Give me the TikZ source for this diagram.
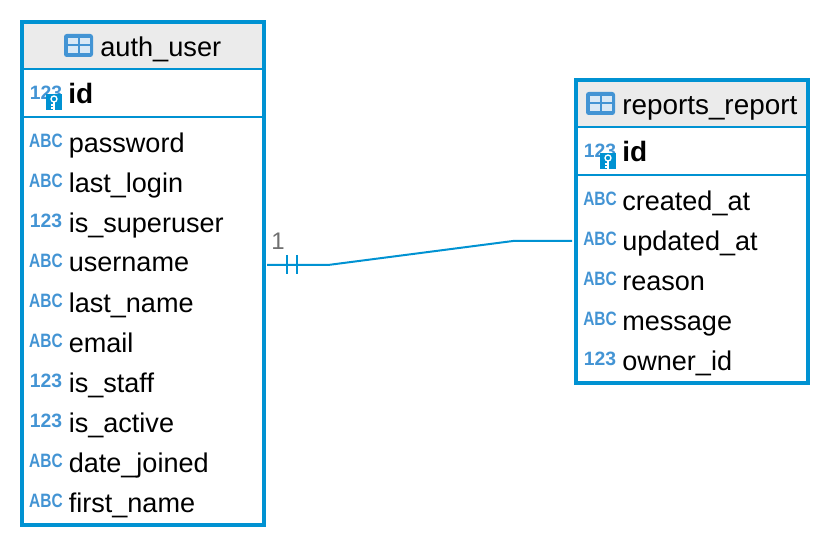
\documentclass[tikz,border=0pt]{standalone}
\usepackage{fontspec}
\setmainfont{Liberation Sans}
\definecolor{erblue}{HTML}{0092D2}
\definecolor{iconblue}{HTML}{4394D4}
\definecolor{headgray}{HTML}{EBEBEB}
\definecolor{cardgray}{HTML}{707070}
\tikzset{
  x=0.75pt,y=-0.75pt,
  tablebox/.style={draw=erblue,line width=3pt,fill=white,inner sep=0pt,rectangle},
  headfill/.style={fill=headgray,draw=none},
  divider/.style={draw=erblue,line width=1.5pt},
  headtext/.style={inner sep=0pt,anchor=west,font=\fontsize{20.9}{24}\selectfont,text height=14.5pt,text depth=4pt},
  authhead/.style={headtext,font=\fontsize{20.4}{24}\selectfont},
  rowtext/.style={inner sep=0pt,anchor=west,font=\fontsize{20.3}{24}\selectfont,text height=14.5pt,text depth=4pt},
  pktext/.style={rowtext,font=\fontsize{21}{24}\selectfont\bfseries},
  typetext/.style={inner sep=0pt,anchor=center,text=iconblue,font=\fontsize{14.5}{16}\selectfont\bfseries},
  tableicon/.style={fill=iconblue,draw=none,rounded corners=2pt},
  iconcell/.style={fill=white,fill opacity=0.8,draw=none},
  badge/.style={fill=erblue,draw=none},
  keyline/.style={draw=white,line width=1pt},
  link/.style={draw=erblue,line width=1.5pt},
  tick/.style={draw=erblue,line width=1.1pt},
  card/.style={inner sep=0pt,text=cardgray,font=\fontsize{18}{20}\selectfont}
}
\newcommand{\tblicon}[2]{%
  \fill[tableicon] (#1,#2) rectangle ++(29,23);
  \fill[iconcell] (#1+3.5,#2+4.5) rectangle ++(10,5.5);
  \fill[iconcell] (#1+15.5,#2+4.5) rectangle ++(10,5.5);
  \fill[iconcell] (#1+3.5,#2+12.5) rectangle ++(10,6.5);
  \fill[iconcell] (#1+15.5,#2+12.5) rectangle ++(10,6.5);
}
\newcommand{\keybadge}[2]{%
  \fill[badge] (#1,#2) rectangle ++(16,16);
  \draw[keyline] (#1+8,#2+5) circle (3);
  \draw[keyline] (#1+8,#2+8) -- ++(0,8);
  \draw[keyline] (#1+8,#2+11) -- ++(-3.5,0);
  \draw[keyline] (#1+8,#2+14) -- ++(-3.5,0);
}
\newcommand{\typelabel}[1]{\ifnum\pdfstrcmp{#1}{ABC}=0 \scalebox{0.8}[1]{ABC}\else #1\fi}
\begin{document}
\begin{tikzpicture}
\useasboundingbox (0,0) rectangle (830,548);
% auth_user
\node[tablebox,minimum width=181.5pt,minimum height=377.25pt] (authuser) at (143,273.5) {};
\fill[headfill] (24,24) rectangle (262,68);
\draw[divider] (23,69) -- (263,69);
\draw[divider] (23,117) -- (263,117);
\tblicon{64}{34}
\node[authhead] (authtitle) at (100,50) {auth\_user};
\node[typetext] (authidtype) at (46,93) {123};
\keybadge{46}{94}
\node[pktext] (authid) at (68,97) {id};
\foreach \nm/\yy/\ty in {password/143/ABC,last\_login/183/ABC,is\_superuser/223/123,last\_name/303/ABC,email/343/ABC,is\_staff/383/123,is\_active/423/123,date\_joined/463/ABC,first\_name/503/ABC}{
  \node[typetext] at (46,\yy-2.5) {\typelabel{\ty}};
  \node[rowtext] at (68.5,\yy+2.6) {\nm};
}
\node[typetext] at (46,260.5) {\typelabel{ABC}};
\node[rowtext] (username) at (68.5,265) {username};
% reports_report
\node[tablebox,minimum width=174pt,minimum height=226.9pt] (reports) at (692,231.75) {};
\fill[headfill] (578,82) rectangle (806,126);
\draw[divider] (577,127) -- (807,127);
\draw[divider] (577,175) -- (807,175);
\tblicon{586}{92}
\node[headtext] (reptitle) at (622,108) {reports\_report};
\node[typetext] (repidtype) at (600,151) {123};
\keybadge{600}{153}
\node[pktext] (repid) at (622,155) {id};
\foreach \nm/\yy/\ty in {created\_at/201/ABC,reason/281/ABC,message/321/ABC,owner\_id/361/123}{
  \node[typetext] at (600,\yy-2.5) {\typelabel{\ty}};
  \node[rowtext] at (622,\yy+2.6) {\nm};
}
\node[typetext] at (600,238.5) {\typelabel{ABC}};
\node[rowtext] (updatedat) at (622,243.6) {updated\_at};
% connector
\coordinate (linkstart) at ([xshift=0.75pt]authuser.east |- username);
\coordinate (linkend) at ([xshift=-1.5pt,yshift=1.95pt]reports.west |- updatedat);
\draw[link] (linkstart) -- ++(61,0) -- (513,241) -- (linkend);
\draw[tick] (287,255) -- (287,274);
\draw[tick] (297,255) -- (297,274);
\node[card] (cardone) at (278,241) {1};
\end{tikzpicture}
\end{document}
